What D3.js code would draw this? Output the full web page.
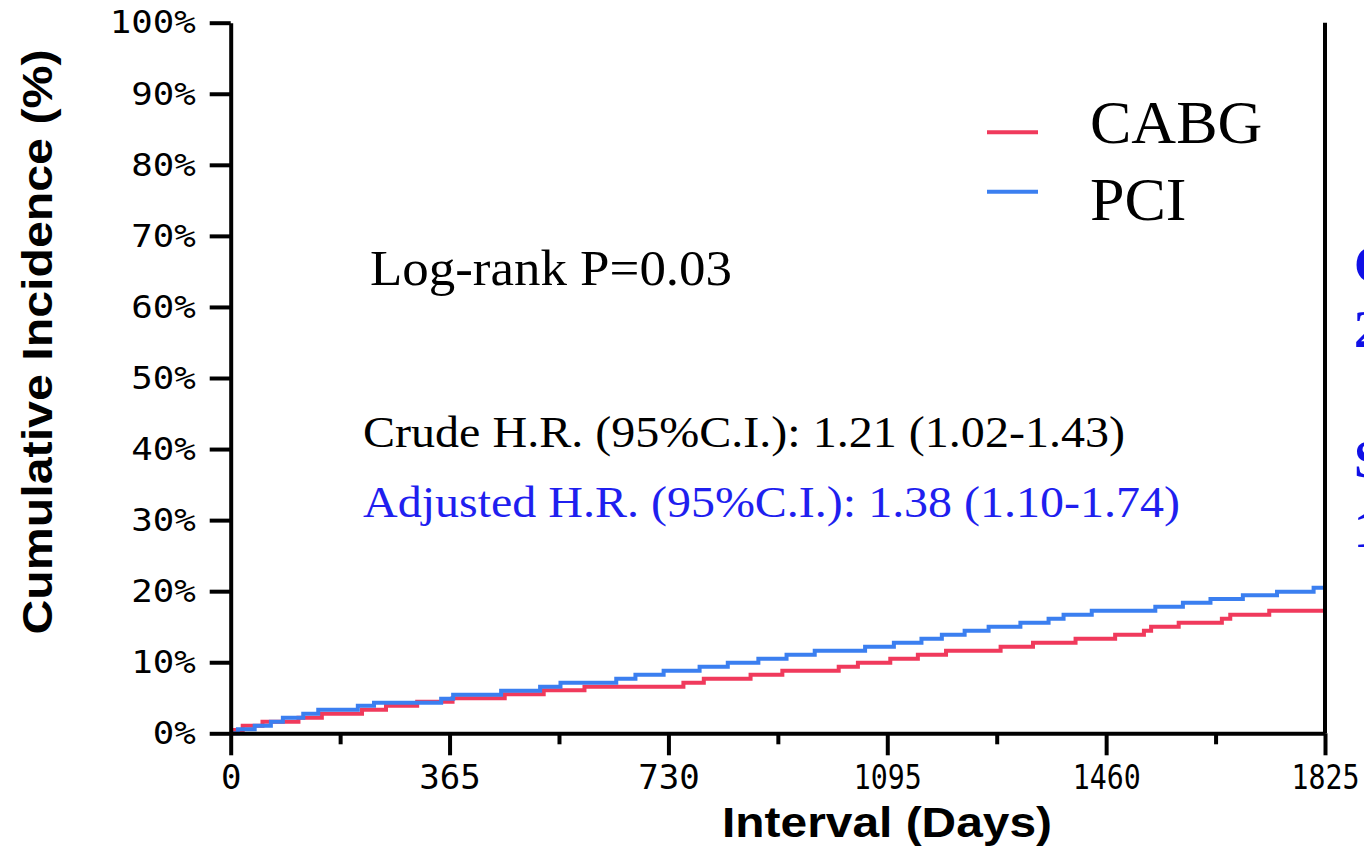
<!DOCTYPE html>
<html><head><meta charset="utf-8">
<script src="https://cdn.jsdelivr.net/npm/d3@7"></script>
<style>html,body{margin:0;padding:0;background:#fff;overflow:hidden}</style>
</head><body>
<svg id="c" width="1364" height="850"></svg>
<script>
// ---- data ----
const cabgDays = [0, 20, 53, 113, 152, 219, 259, 311, 370, 457, 522, 590, 755, 789, 867, 920, 1014, 1046, 1100, 1146, 1193, 1284, 1338, 1409, 1475, 1523, 1535, 1581, 1653, 1667, 1732, 1825];
const cabgPct  = [0.46, 1.07, 1.63, 2.2, 2.76, 3.32, 3.88, 4.45, 4.93, 5.49, 6.05, 6.56, 7.12, 7.68, 8.25, 8.81, 9.37, 9.94, 10.5, 11.06, 11.62, 12.19, 12.75, 13.31, 13.88, 14.44, 15.0, 15.56, 16.13, 16.69, 17.25, 17.25];
const pciDays  = [0, 12, 40, 67, 87, 121, 146, 212, 239, 351, 371, 451, 516, 550, 643, 675, 722, 782, 829, 880, 927, 974, 1058, 1106, 1152, 1186, 1224, 1264, 1317, 1364, 1389, 1436, 1542, 1588, 1634, 1688, 1745, 1806, 1825];
const pciPct   = [0, 0.56, 1.07, 1.63, 2.2, 2.76, 3.32, 3.88, 4.3, 4.87, 5.43, 5.99, 6.56, 7.12, 7.68, 8.25, 8.81, 9.37, 9.94, 10.5, 11.06, 11.62, 12.19, 12.75, 13.31, 13.88, 14.44, 15.0, 15.56, 16.13, 16.69, 17.25, 17.82, 18.38, 18.9, 19.42, 19.93, 20.49, 20.49];
const xMajorTicks = [0, 365, 730, 1095, 1460, 1825];
const xMinorTicks = [182.5, 547.5, 912.5, 1277.5, 1642.5];
const yTicks = [0, 10, 20, 30, 40, 50, 60, 70, 80, 90, 100];
const seriesNames = ["CABG", "PCI"];
const xTitle = "Interval (Days)";
const yTitle = "Cumulative Incidence (%)";
const pText = "Log-rank P=0.03";
const crudeText = "Crude H.R. (95%C.I.): 1.21 (1.02-1.43)";
const adjText = "Adjusted H.R. (95%C.I.): 1.38 (1.10-1.74)";
const cutText = ["C", "2", "S", "1"];

// ---- layout ----
const RED = "#f03a5c", BLUE = "#3b7ff0";
const svg = d3.select("#c");
const x = d3.scaleLinear().domain([0, 1825]).range([230.7, 1325]);
const y = d3.scaleLinear().domain([0, 100]).range([733.3, 22.7]);

// curves
const line = d3.line().x(d => x(d[0])).y(d => y(d[1])).curve(d3.curveStepAfter);
const red = cabgDays.map((d, i) => [d, cabgPct[i]]);
const blue = pciDays.map((d, i) => [d, pciPct[i]]);
svg.append("path").attr("d", line(red)).attr("fill", "none").attr("stroke", RED).attr("stroke-width", 4);
svg.append("path").attr("d", line(blue)).attr("fill", "none").attr("stroke", BLUE).attr("stroke-width", 4);

// axes
const yAx = svg.append("g").attr("transform", `translate(${x(0)},0)`)
  .call(d3.axisLeft(y).tickValues(yTicks).tickSize(21).tickSizeOuter(0).tickPadding(14).tickFormat(d => d + "%"));
yAx.select(".domain").attr("stroke-width", 4);
yAx.selectAll(".tick line").attr("stroke-width", 4);
yAx.selectAll(".tick text").attr("font-family", "DejaVu Sans Mono").attr("font-size", 32).attr("fill", "#000")
  .attr("textLength", function(d){ return (d + "%").length * 21.5; }).attr("lengthAdjust", "spacingAndGlyphs");

const xAx = svg.append("g").attr("transform", `translate(0,${y(0)})`)
  .call(d3.axisBottom(x).tickValues(xMajorTicks).tickSize(22).tickSizeOuter(0).tickPadding(10).tickFormat(d3.format("d")));
xAx.select(".domain").attr("stroke-width", 4);
xAx.selectAll(".tick line").attr("stroke-width", 4);
xAx.selectAll(".tick text").attr("font-family", "DejaVu Sans Mono").attr("font-size", 34).attr("fill", "#000")
  .attr("textLength", function(d){ const n = String(d).length; return n < 4 ? n * 20.5 : n * 17; })
  .attr("lengthAdjust", "spacingAndGlyphs");
const xMin = svg.append("g").attr("transform", `translate(0,${y(0)})`)
  .call(d3.axisBottom(x).tickValues(xMinorTicks).tickSize(11).tickSizeOuter(0).tickFormat(""));
xMin.select(".domain").remove();
xMin.selectAll(".tick line").attr("stroke-width", 4);

// right border
svg.append("line").attr("x1", x(1825)).attr("x2", x(1825)).attr("y1", y(100)).attr("y2", y(0))
  .attr("stroke", "#000").attr("stroke-width", 4);

// titles
svg.append("text").attr("x", 887).attr("y", 837).attr("text-anchor", "middle")
  .attr("font-family", "Liberation Sans").attr("font-weight", "bold").attr("font-size", 42)
  .attr("textLength", 330).attr("lengthAdjust", "spacingAndGlyphs").text(xTitle);
svg.append("text").attr("transform", "translate(52,342) rotate(-90)").attr("text-anchor", "middle")
  .attr("font-family", "Liberation Sans").attr("font-weight", "bold").attr("font-size", 42)
  .attr("textLength", 585).attr("lengthAdjust", "spacingAndGlyphs").text(yTitle);

// legend
const legY = [132.3, 191.7], legBase = [143.3, 220];
[RED, BLUE].forEach((c, i) => {
  svg.append("line").attr("x1", 987).attr("x2", 1038).attr("y1", legY[i]).attr("y2", legY[i])
    .attr("stroke", c).attr("stroke-width", 4);
  svg.append("text").attr("x", 1090).attr("y", legBase[i]).attr("font-family", "Liberation Serif")
    .attr("font-size", 62).attr("fill", "#000").text(seriesNames[i]);
});

// annotations
svg.append("text").attr("x", 370).attr("y", 285).attr("font-family", "Liberation Serif").attr("font-size", 50)
  .attr("textLength", 362).attr("lengthAdjust", "spacingAndGlyphs").text(pText);
svg.append("text").attr("x", 363).attr("y", 447).attr("font-family", "Liberation Serif").attr("font-size", 45)
  .attr("textLength", 762).attr("lengthAdjust", "spacingAndGlyphs").text(crudeText);
svg.append("text").attr("x", 363).attr("y", 517).attr("font-family", "Liberation Serif").attr("font-size", 45)
  .attr("fill", "#1f1fef").attr("textLength", 817).attr("lengthAdjust", "spacingAndGlyphs").text(adjText);

// cut-off text at right edge (as in the reference)
const cutY = [282, 347, 477, 547];
cutText.forEach((t, i) => {
  svg.append("text").attr("x", 1354).attr("y", cutY[i]).attr("font-family", "Liberation Serif")
    .attr("font-weight", "bold").attr("font-size", 52).attr("fill", "#1010e6").text(t);
});
</script>
</body></html>
